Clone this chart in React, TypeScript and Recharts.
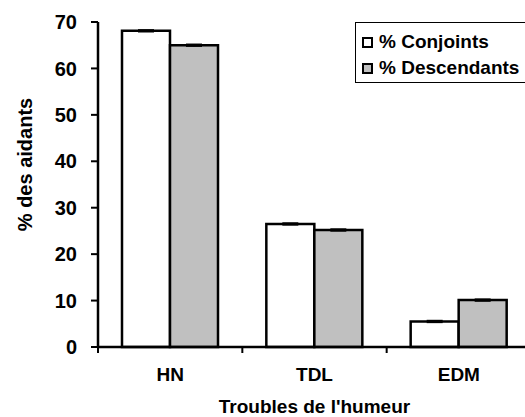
import React from 'react';
import { BarChart, Bar, XAxis, YAxis, ErrorBar } from 'recharts';

const categories = ['HN', 'TDL', 'EDM'];
const conjoints = [68.1, 26.5, 5.5];
const descendants = [65.0, 25.2, 10.1];
const conjointsErr = [0.2, 0.2, 0.2];
const descendantsErr = [0.2, 0.2, 0.2];
const yTicks = [0, 10, 20, 30, 40, 50, 60, 70];
const seriesLabels = ['% Conjoints', '% Descendants'];
const seriesFills = ['#fff', '#c0c0c0'];

const data = categories.map((name, i) => ({
  name,
  conjoints: conjoints[i],
  descendants: descendants[i],
  conjointsErr: conjointsErr[i],
  descendantsErr: descendantsErr[i],
}));

const FONT = '"Liberation Sans", Arial, sans-serif';

const CategoryTick = (props: any) => {
  const { x, y, payload } = props;
  const half = payload && payload.offset ? payload.offset : 0;
  return (
    <g>
      <line x1={x - half} y1={y} x2={x - half} y2={y + 6} stroke="#000" strokeWidth={2} />
      <text x={x} y={y + 34} textAnchor="middle" fontFamily={FONT} fontWeight="bold" fontSize={19} fill="#000">
        {payload.value}
      </text>
    </g>
  );
};

// legend drawn as a plain box so it doesn't eat into the plot area
const LegendBox = () => (
  <div
    style={{
      position: 'absolute',
      left: 355,
      top: 22,
      border: '1px solid #000',
      background: '#fff',
      width: 175,
      height: 61,
      boxSizing: 'border-box',
      paddingTop: 6,
      paddingLeft: 6,
      fontFamily: FONT,
      fontWeight: 'bold',
      fontSize: 19,
      lineHeight: '26px',
      color: '#000',
    }}
  >
    {seriesLabels.map((label, i) => (
      <div key={label} style={{ display: 'flex', alignItems: 'center', whiteSpace: 'nowrap' }}>
        <span
          style={{
            display: 'inline-block',
            width: 11,
            height: 11,
            boxSizing: 'border-box',
            border: '2px solid #000',
            background: seriesFills[i],
            marginRight: 6,
          }}
        />
        {label}
      </div>
    ))}
  </div>
);

export default function App() {
  return (
    <div style={{ position: 'absolute', left: 0, top: 0, width: 525, height: 417, overflow: 'hidden', background: '#fff' }}>
      <BarChart
        width={540}
        height={417}
        data={data}
        margin={{ top: 22, right: 9, left: 8, bottom: 0 }}
        barCategoryGap={24}
        barGap={0}
      >
        <XAxis
          dataKey="name"
          axisLine={{ stroke: '#000', strokeWidth: 2.5 }}
          tickLine={false}
          tickSize={0}
          tickMargin={0}
          height={70}
          tick={<CategoryTick />}
          label={{
            content: (p: any) => {
              const vb = p.viewBox;
              return (
                <text x={vb.x + vb.width / 2} y={413} textAnchor="middle" fontFamily={FONT} fontWeight="bold" fontSize={19} fill="#000">
                  Troubles de l'humeur
                </text>
              );
            },
          }}
        />
        <YAxis
          width={90}
          domain={[0, 70]}
          ticks={yTicks}
          interval={0}
          axisLine={{ stroke: '#000', strokeWidth: 2.5 }}
          tickLine={{ stroke: '#000', strokeWidth: 2 }}
          tickSize={7}
          tickMargin={14}
          tick={{ fill: '#000', fontFamily: FONT, fontWeight: 'bold', fontSize: 20 }}
          label={{
            content: (p: any) => {
              const vb = p.viewBox;
              const cx = 25;
              const cy = vb.y + vb.height / 2 - 20;
              return (
                <text
                  x={cx}
                  y={cy}
                  transform={`rotate(-90 ${cx} ${cy})`}
                  textAnchor="middle"
                  dominantBaseline="central"
                  fontFamily={FONT}
                  fontWeight="bold"
                  fontSize={20}
                  fill="#000"
                >
                  % des aidants
                </text>
              );
            },
          }}
        />
        <Bar dataKey="conjoints" name={seriesLabels[0]} fill={seriesFills[0]} stroke="#000" strokeWidth={2.5} isAnimationActive={false}>
          <ErrorBar dataKey="conjointsErr" width={8} stroke="#000" strokeWidth={1.5} />
        </Bar>
        <Bar dataKey="descendants" name={seriesLabels[1]} fill={seriesFills[1]} stroke="#000" strokeWidth={2.5} isAnimationActive={false}>
          <ErrorBar dataKey="descendantsErr" width={8} stroke="#000" strokeWidth={1.5} />
        </Bar>
      </BarChart>
      <LegendBox />
    </div>
  );
}
